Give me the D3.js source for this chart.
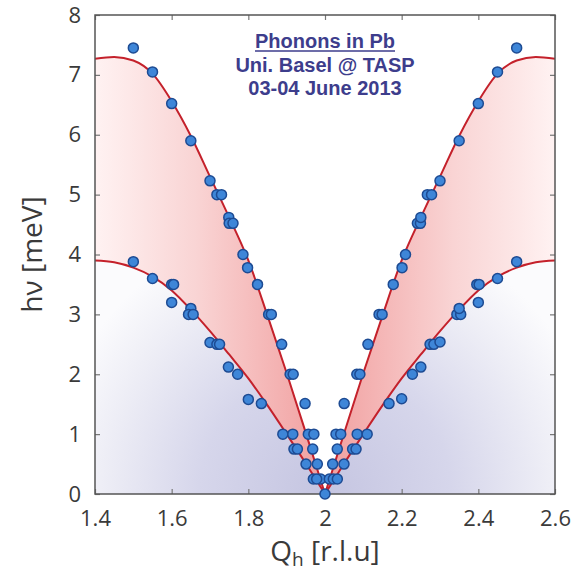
<!DOCTYPE html>
<html>
<head>
<meta charset="utf-8">
<script src="https://cdn.jsdelivr.net/npm/d3@7"></script>
<style>
  body { margin: 0; background: #fff; }
  svg { display: block; }
</style>
</head>
<body>
<div id="chart"></div>
<script>
// measured points, upper (LA) branch
const laQ = [1.50, 1.55, 1.60, 1.65, 1.70, 1.718, 1.73, 1.749, 1.75, 1.76, 1.786, 1.798, 1.824, 1.853, 1.86,
  1.887, 1.909, 1.917, 1.948, 1.9565, 1.971, 1.968, 1.980, 1.9888,
  2.0113, 2.020, 2.032, 2.0287, 2.041, 2.050, 2.083, 2.091, 2.112, 2.141, 2.149, 2.178, 2.201, 2.210,
  2.241, 2.249, 2.250, 2.267, 2.278, 2.300, 2.350, 2.400, 2.450, 2.500];
const laE = [7.45, 7.05, 6.52, 5.90, 5.23, 5.00, 5.00, 4.62, 4.52, 4.52, 4.00, 3.78, 3.50, 3.00, 3.00,
  2.50, 2.00, 2.00, 1.51, 1.00, 1.00, 0.75, 0.50, 0.25,
  0.25, 0.50, 0.75, 1.00, 1.00, 1.51, 2.00, 2.00, 2.50, 3.00, 3.00, 3.50, 3.78, 4.00,
  4.52, 4.52, 4.62, 5.00, 5.00, 5.23, 5.90, 6.52, 7.05, 7.45];

// measured points, lower (TA) branch
const taQ = [1.50, 1.55, 1.60, 1.605, 1.60, 1.65, 1.644, 1.656, 1.70, 1.718, 1.725, 1.748, 1.772, 1.80, 1.834,
  1.890, 1.916, 1.919, 1.928, 1.9505, 1.9696, 1.9783, 2.000,
  2.0217, 2.0322, 2.0496, 2.072, 2.081, 2.084, 2.110, 2.167, 2.200, 2.228, 2.250, 2.274, 2.284, 2.300,
  2.344, 2.354, 2.350, 2.400, 2.396, 2.402, 2.450, 2.500];
const taE = [3.88, 3.60, 3.50, 3.50, 3.20, 3.10, 3.00, 3.00, 2.53, 2.50, 2.50, 2.12, 2.00, 1.58, 1.51,
  1.00, 1.00, 0.75, 0.75, 0.50, 0.25, 0.25, 0.00,
  0.25, 0.25, 0.50, 0.75, 0.75, 1.00, 1.00, 1.51, 1.59, 2.00, 2.12, 2.50, 2.50, 2.54,
  3.00, 3.00, 3.10, 3.20, 3.50, 3.50, 3.60, 3.88];

// fitted dispersion curves
const curveQLeft = [1.40, 1.45, 1.50, 1.55, 1.60, 1.65, 1.70, 1.75, 1.80, 1.85, 1.90, 1.95, 2.00];
const curveQRight = [2.00, 2.05, 2.10, 2.15, 2.20, 2.25, 2.30, 2.35, 2.40, 2.45, 2.50, 2.55, 2.60];
const upperLeft = [7.27, 7.30, 7.24, 7.02, 6.56, 5.98, 5.30, 4.62, 3.90, 2.98, 2.02, 1.02, 0.00];
const upperRight = [0.00, 1.02, 2.02, 2.98, 3.90, 4.62, 5.30, 5.98, 6.56, 7.02, 7.24, 7.30, 7.27];
const lowerLeft = [3.90, 3.87, 3.78, 3.63, 3.40, 3.08, 2.72, 2.33, 1.93, 1.48, 1.00, 0.51, 0.00];
const lowerRight = [0.00, 0.51, 1.00, 1.48, 1.93, 2.33, 2.72, 3.08, 3.40, 3.63, 3.78, 3.87, 3.90];

const xTicks = [1.4, 1.6, 1.8, 2.0, 2.2, 2.4, 2.6];
const yTicks = [0, 1, 2, 3, 4, 5, 6, 7, 8];
const titleLines = ['Phonons in Pb', 'Uni. Basel @ TASP', '03-04 June 2013'];

const width = 577;
const height = 574;
const margin = { top: 15, right: 22, bottom: 80, left: 95 };

const svg = d3.select('#chart').append('svg')
    .attr('width', width)
    .attr('height', height);

const x = d3.scaleLinear().domain([1.4, 2.6]).range([margin.left, width - margin.right]);
const y = d3.scaleLinear().domain([0, 8]).range([height - margin.bottom, margin.top]);

const defs = svg.append('defs');
defs.append('clipPath').attr('id', 'plot-clip')
  .append('rect')
    .attr('x', x(1.4)).attr('y', y(8))
    .attr('width', x(2.6) - x(1.4)).attr('height', y(0) - y(8));

const blue = defs.append('radialGradient').attr('id', 'blue-bg')
    .attr('gradientUnits', 'userSpaceOnUse')
    .attr('cx', x(2.0)).attr('cy', y(0)).attr('r', 280);
[[0, '#c5c5e1'], [0.45, '#d6d6eb'], [0.8, '#eeeef6'], [1, '#fbfbfd']].forEach(s =>
  blue.append('stop').attr('offset', s[0]).attr('stop-color', s[1]));

const pink = defs.append('linearGradient').attr('id', 'pink-bg')
    .attr('gradientUnits', 'userSpaceOnUse')
    .attr('x1', x(1.4)).attr('x2', x(2.6)).attr('y1', 0).attr('y2', 0);
[[0, '#fff2f2'], [0.22, '#f9d4d4'], [0.5, '#f19f9f'], [0.78, '#f9d4d4'], [1, '#fff2f2']].forEach(s =>
  pink.append('stop').attr('offset', s[0]).attr('stop-color', s[1]));

const plot = svg.append('g').attr('clip-path', 'url(#plot-clip)');

plot.append('rect')
    .attr('x', x(1.4)).attr('y', y(8))
    .attr('width', x(2.6) - x(1.4)).attr('height', y(0) - y(8))
    .attr('fill', 'url(#blue-bg)');

const halves = [
  curveQLeft.map((q, i) => ({ q, lo: lowerLeft[i], up: upperLeft[i] })),
  curveQRight.map((q, i) => ({ q, lo: lowerRight[i], up: upperRight[i] }))
];

const band = d3.area()
    .x(d => x(d.q))
    .y0(d => y(d.lo))
    .y1(d => y(d.up))
    .curve(d3.curveMonotoneX);

const above = d3.area()
    .x(d => x(d.q))
    .y0(d => y(d.up))
    .y1(y(8))
    .curve(d3.curveMonotoneX);

halves.forEach(h => {
  plot.append('path').datum(h).attr('d', band).attr('fill', 'url(#pink-bg)');
  plot.append('path').datum(h).attr('d', above).attr('fill', '#fff');
});

const lineUp = d3.line().x(d => x(d.q)).y(d => y(d.up)).curve(d3.curveMonotoneX);
const lineLo = d3.line().x(d => x(d.q)).y(d => y(d.lo)).curve(d3.curveMonotoneX);

halves.forEach(h => {
  [lineUp, lineLo].forEach(gen => {
    plot.append('path').datum(h)
        .attr('d', gen)
        .attr('fill', 'none')
        .attr('stroke', '#c4212b')
        .attr('stroke-width', 2);
  });
});

// axes with inward ticks on all four sides
const tickStyle = g => {
  g.select('.domain').remove();
  g.selectAll('.tick line').attr('stroke', '#777').attr('stroke-width', 1.2);
  g.selectAll('.tick text')
      .attr('fill', '#3a3a3a')
      .style('font-family', '"Open Sans", sans-serif')
      .style('font-size', '22px');
};

svg.append('g')
    .attr('transform', `translate(0,${y(0)})`)
    .call(d3.axisBottom(x).tickValues(xTicks).tickSize(-5).tickPadding(16).tickFormat(d3.format('')))
    .call(tickStyle);

svg.append('g')
    .attr('transform', `translate(0,${y(8)})`)
    .call(d3.axisTop(x).tickValues(xTicks).tickSize(-5).tickFormat(''))
    .call(tickStyle);

svg.append('g')
    .attr('transform', `translate(${x(1.4)},0)`)
    .call(d3.axisLeft(y).tickValues(yTicks).tickSize(-5).tickPadding(14))
    .call(tickStyle);

svg.append('g')
    .attr('transform', `translate(${x(2.6)},0)`)
    .call(d3.axisRight(y).tickValues(yTicks).tickSize(-5).tickFormat(''))
    .call(tickStyle);

svg.append('rect')
    .attr('x', x(1.4)).attr('y', y(8))
    .attr('width', x(2.6) - x(1.4)).attr('height', y(0) - y(8))
    .attr('fill', 'none')
    .attr('stroke', '#555')
    .attr('stroke-width', 1.5);

// data points
const points = laQ.map((q, i) => ({ q, e: laE[i] }))
  .concat(taQ.map((q, i) => ({ q, e: taE[i] })));

svg.append('g').selectAll('circle')
  .data(points)
  .join('circle')
    .attr('cx', d => x(d.q))
    .attr('cy', d => y(d.e))
    .attr('r', 5)
    .attr('fill', '#3e86d8')
    .attr('stroke', '#1d4b93')
    .attr('stroke-width', 1.5);

// title block
const title = svg.append('g')
    .attr('fill', '#3d3d8c')
    .style('font-family', '"Liberation Sans", Arial, sans-serif')
    .style('font-weight', 'bold')
    .style('font-size', '20px')
    .attr('text-anchor', 'middle');

title.selectAll('text')
  .data(titleLines)
  .join('text')
    .attr('x', x(2.0))
    .attr('y', (d, i) => 48 + i * 23.5)
    .text(d => d);

const first = title.select('text').node().getBBox();
title.append('line')
    .attr('x1', first.x).attr('x2', first.x + first.width)
    .attr('y1', 51).attr('y2', 51)
    .attr('stroke', '#3d3d8c')
    .attr('stroke-width', 1.6);

// axis labels
svg.append('text')
    .attr('transform', `translate(42,${(y(0) + y(8)) / 2}) rotate(-90)`)
    .attr('text-anchor', 'middle')
    .attr('fill', '#3a3a3a')
    .style('font-family', '"Open Sans", sans-serif')
    .style('font-size', '28px')
    .text('hν [meV]');

const xl = svg.append('text')
    .attr('x', x(2.0))
    .attr('y', 561)
    .attr('text-anchor', 'middle')
    .attr('fill', '#3a3a3a')
    .style('font-family', '"Open Sans", sans-serif')
    .style('font-size', '28px');
xl.append('tspan').text('Q');
xl.append('tspan').attr('dy', 5).style('font-size', '19px').text('h');
xl.append('tspan').attr('dy', -5).text(' [r.l.u]');
</script>
</body>
</html>
